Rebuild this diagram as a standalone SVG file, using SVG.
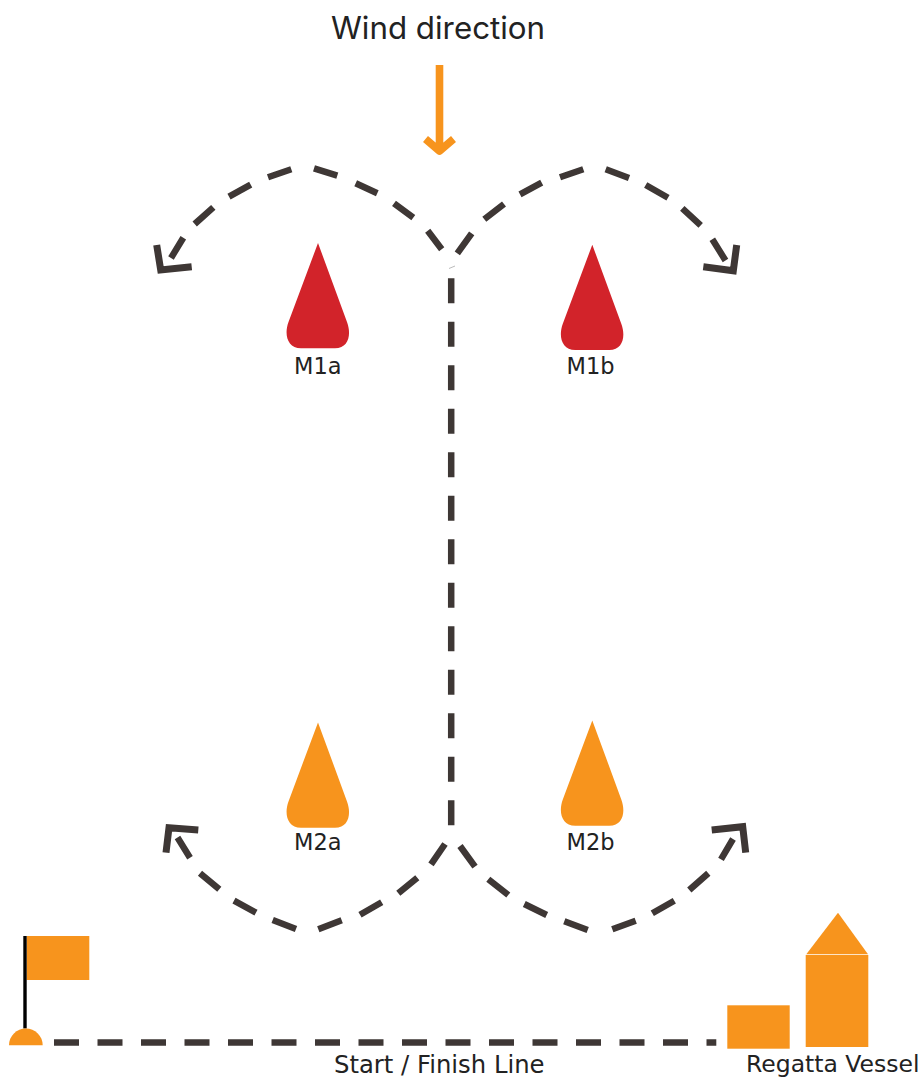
<svg xmlns="http://www.w3.org/2000/svg" width="923" height="1077" viewBox="0 0 923 1077">
<style>
.dash{fill:none;stroke:#3e3735;stroke-width:6.500}
.head{fill:none;stroke:#3e3735;stroke-width:7;stroke-linejoin:miter}
.mark{font-family:"DejaVu Sans",sans-serif;font-size:22.500px;fill:#222}
.cap{font-family:"DejaVu Sans",sans-serif;fill:#222}
.or{fill:#f7941d}
.rd{fill:#d2232a}
</style>
<defs>
<path id="buoy" d="M318 243L347 322C351.500 334 349 348.300 335 348.300H301C287 348.300 284 334 288.500 322Z"/>
</defs>
<rect width="923" height="1077" fill="#fff"/>
<g id="connectors">
<path class="dash" d="M441.700 249.300L427.700 230.700M413.300 217.700L394 203.300M377.300 193.300L355.700 183.300M337.300 175.700L314 168.300M291.300 169.300L268 177.300M250.700 184.700L229 196.700M213.300 207.300L194.700 224M183.300 237.700L171 258"/>
<polyline class="head" points="156.700,245 160.700,270 191.700,266.700"/>
<path class="dash" d="M457.300 253.300L471.700 233.300M484.300 219.300L504 204M520 194.300L541.700 182.700M560 177.300L583.300 169.300M605.700 169.300L629 178M645.700 185L668 197.700M682.300 208.300L700.700 225.300M712.300 239.300L725.500 260.500"/>
<polyline class="head" points="736.700,245 733.300,270.700 703.300,266.700"/>
<path class="dash" d="M445 844L431 864.300M417.300 877.700L398.300 893.300M381.700 902.300L360 914.700M341.700 920.300L318.300 929.300M296 929L272.700 920M256 912.700L234 900.700M219.300 889.300L200 873.300M190 857.700L177.500 837.500"/>
<polyline class="head" points="166,852.700 169,827.700 198.300,830"/>
<path class="dash" d="M460 846L475 866.700M488.300 879.300L508.300 895M524.300 904L546.700 915M564.300 921.300L587.700 930M612.300 929.300L635.700 920.700M652.300 913.300L674.300 900.700M689.300 890L708.300 873.300M721 859.300L733 839"/>
<polyline class="head" points="711.700,830 742.700,826.700 745.700,852.700"/>
<path d="M449 268.500L455 266" fill="none" stroke="#bbb" stroke-width="1"/>
<path class="dash" stroke-dasharray="25 18.500" d="M451.200 278.300V826"/>
<path class="dash" stroke-dasharray="25 18.500" d="M54 1042.400H716.300"/>
</g>
<g id="wind">
<text x="331" y="39.300" font-family="Inter,sans-serif" font-size="31.300px" fill="#222">Wind direction</text>
<path d="M439.500 65V150M425.500 139L439.500 151L453.500 139" fill="none" stroke="#f7941d" stroke-width="7.600" stroke-linejoin="round"/>
</g>
<g id="m1a"><use href="#buoy" class="rd"/><text class="mark" x="294" y="374">M1a</text></g>
<g id="m1b"><use href="#buoy" class="rd" x="274.300" y="1.700"/><text class="mark" x="566.500" y="374">M1b</text></g>
<g id="m2a"><use href="#buoy" class="or" y="479.400"/><text class="mark" x="294" y="850">M2a</text></g>
<g id="m2b"><use href="#buoy" class="or" x="274.300" y="477.400"/><text class="mark" x="566.500" y="850">M2b</text></g>
<g id="start-flag">
<rect class="or" x="26.700" y="936" width="62.600" height="44"/>
<rect x="23.300" y="936" width="3.400" height="92.500" fill="#000"/>
<path class="or" d="M9 1045.300A16.800 16.800 0 0 1 42.700 1045.300Z"/>
</g>
<g id="vessel">
<rect class="or" x="727.300" y="1005.300" width="62.400" height="43.400"/>
<rect class="or" x="805.700" y="955" width="62.600" height="92"/>
<polygon class="or" points="838,912.700 806.300,954.300 868,954.300"/>
</g>
<text class="cap" x="334" y="1073" font-size="24.300px">Start / Finish Line</text>
<text class="cap" x="746" y="1072" font-size="23.500px">Regatta Vessel</text>
</svg>
